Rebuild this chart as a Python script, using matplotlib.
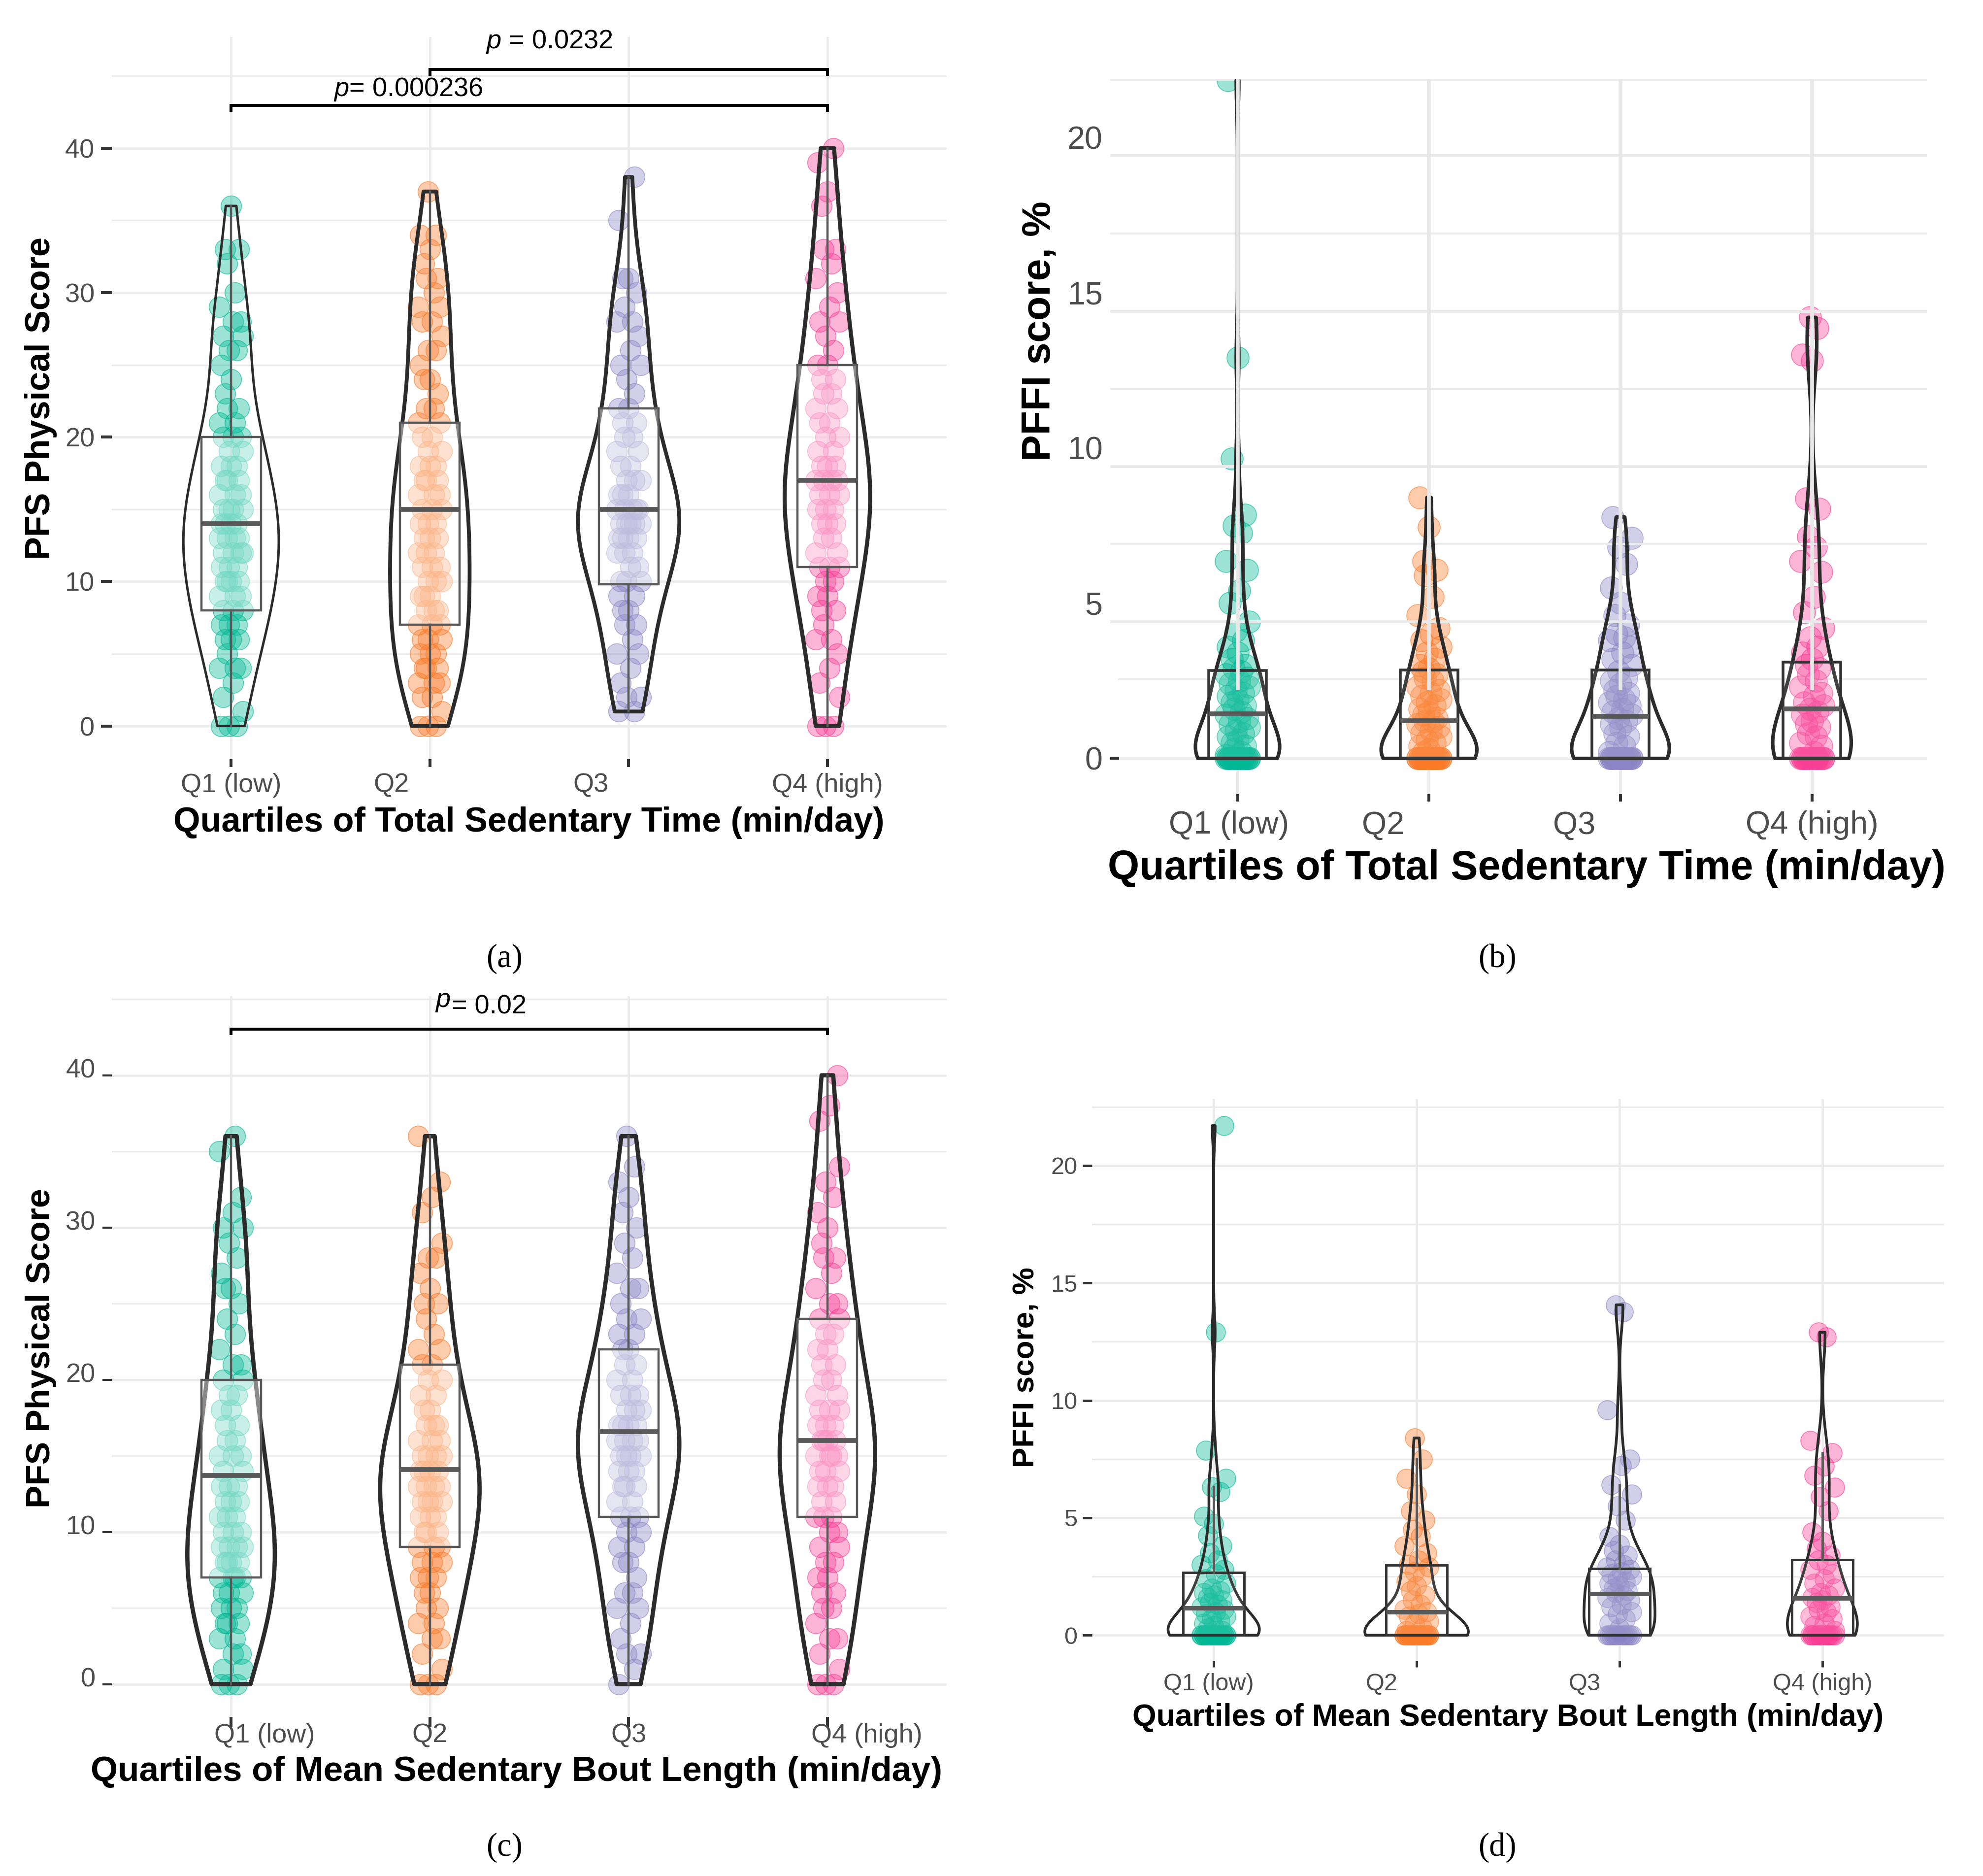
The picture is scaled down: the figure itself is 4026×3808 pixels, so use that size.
"""
Four-panel violin / box / jitter figure: PFS physical score and PFFI score
by quartiles of total sedentary time and mean sedentary bout length.
"""
import matplotlib
matplotlib.use("Agg")

import matplotlib.pyplot as plt
import matplotlib.transforms as mtransforms
import numpy as np
from matplotlib.colors import to_rgba

# ── canvas ─────────────────────────────────────────────────────────────────────
W, H, DPI = 4026, 3808, 100

plt.rcParams["font.family"] = ["Liberation Sans", "DejaVu Sans"]
plt.rcParams["mathtext.fontset"] = "custom"
plt.rcParams["mathtext.it"] = "Liberation Sans:italic"
plt.rcParams["mathtext.rm"] = "Liberation Sans"

# ── colours ────────────────────────────────────────────────────────────────────
C_GRID = "#EBEBEB"
C_TICK = "#333333"
C_TXT = "#4D4D4D"
C_VIOLIN = "#2B2B2B"
C_BOX = "#595959"
GROUP_COLORS = ["#00B894", "#FA7A28", "#8A84C4", "#F83E95"]

# ── data ───────────────────────────────────────────────────────────────────────
CATEGORIES = ["Q1 (low)", "Q2", "Q3", "Q4 (high)"]
POSITIONS = [1, 2, 3, 4]

XLABEL_TOTAL = "Quartiles of Total Sedentary Time (min/day)"
XLABEL_BOUT = "Quartiles of Mean Sedentary Bout Length (min/day)"
YLABEL_PFS = "PFS Physical Score"
YLABEL_PFFI = "PFFI score, %"

# (a) PFS by total sedentary time
A_Q1 = [0, 0, 0, 1, 2, 3, 4, 4, 4, 5, 6, 6, 6, 7, 7, 7, 8, 8, 8, 9, 9, 9, 10, 10, 10, 10,
        11, 11, 11, 12, 12, 12, 12, 13, 13, 13, 13, 14, 14, 14, 14, 15, 15, 15, 15, 16, 16,
        16, 17, 17, 17, 18, 18, 18, 19, 19, 20, 20, 20, 21, 21, 22, 22, 23, 24, 25, 26, 26,
        27, 27, 28, 28, 29, 30, 32, 33, 33, 36]
A_Q2 = [0, 0, 0, 1, 2, 2, 3, 3, 3, 4, 4, 4, 5, 5, 5, 6, 6, 6, 7, 7, 7, 8, 8, 8, 9, 9, 9,
        10, 10, 10, 11, 11, 11, 12, 12, 12, 13, 13, 13, 14, 14, 14, 15, 15, 15, 16, 16, 16,
        17, 17, 17, 18, 18, 18, 19, 19, 20, 20, 21, 21, 22, 22, 23, 24, 24, 25, 26, 26, 27,
        28, 28, 29, 29, 30, 31, 31, 32, 33, 34, 34, 37]
A_Q3 = [1, 1, 2, 2, 3, 4, 5, 5, 6, 7, 7, 8, 8, 9, 9, 10, 10, 10, 11, 11, 12, 12, 12, 13, 13,
        13, 13, 14, 14, 14, 14, 14, 15, 15, 15, 15, 15, 16, 16, 16, 17, 17, 17, 18, 18, 19,
        19, 20, 20, 21, 21, 22, 22, 23, 24, 25, 25, 26, 27, 28, 28, 29, 30, 31, 31, 35, 38]
A_Q4 = [0, 0, 0, 2, 3, 4, 5, 6, 6, 7, 8, 8, 9, 9, 10, 10, 11, 11, 11, 12, 12, 13, 13, 14, 14,
        14, 15, 15, 15, 16, 16, 16, 17, 17, 17, 17, 18, 18, 18, 19, 19, 20, 20, 21, 21, 22,
        22, 23, 23, 24, 24, 25, 25, 26, 27, 28, 28, 29, 30, 31, 32, 33, 33, 36, 37, 39, 40]
A_BOX_LOWER = [8, 7, 9.8, 11]
A_BOX_MEDIAN = [14, 15, 15, 17]
A_BOX_UPPER = [20, 21, 22, 25]
A_WHISKER_LO = [0, 0, 1, 0]
A_WHISKER_HI = [36, 37, 38, 40]
A_P_TEXTS = ["$p$= 0.000236", "$p$ = 0.0232"]

# (b) PFFI by total sedentary time
B_Q1 = [0, 0, 0, 0, 0, 0, 0, 0, 0, 0, 0, 0, 0, 0, 0, 0, 0, 0, 0, 0,
        0.1, 0.2, 0.3, 0.4, 0.5, 0.6, 0.7, 0.8, 0.9, 1.0, 1.1, 1.2, 1.3, 1.4, 1.5, 1.6,
        1.7, 1.8, 1.9, 2.0, 2.1, 2.2, 2.3, 2.4, 2.5, 2.6, 2.7, 2.8, 2.9, 3.0, 3.2, 3.4,
        3.6, 3.8, 4.1, 4.4, 5.0, 5.4, 6.06, 6.35, 7.25, 7.5, 7.85, 9.65, 12.9, 21.83]
B_Q2 = [0, 0, 0, 0, 0, 0, 0, 0, 0, 0, 0, 0, 0, 0, 0, 0, 0, 0, 0, 0, 0, 0, 0, 0,
        0.2, 0.3, 0.4, 0.5, 0.6, 0.7, 0.8, 0.9, 1.0, 1.1, 1.2, 1.2, 1.3, 1.4, 1.5, 1.6,
        1.7, 1.8, 1.9, 2.0, 2.1, 2.2, 2.3, 2.5, 2.6, 2.7, 2.8, 2.9, 3.0, 3.2, 3.4, 3.6,
        3.8, 4.0, 4.2, 4.6, 5.2, 5.9, 6.06, 6.35, 7.44, 8.4]
B_Q3 = [0, 0, 0, 0, 0, 0, 0, 0, 0, 0, 0, 0, 0, 0, 0, 0, 0, 0, 0, 0,
        0.2, 0.4, 0.5, 0.7, 0.8, 1.0, 1.1, 1.2, 1.3, 1.4, 1.5, 1.6, 1.7, 1.8, 1.9, 2.0,
        2.1, 2.2, 2.4, 2.5, 2.6, 2.8, 3.0, 3.2, 3.4, 3.6, 3.8, 3.9, 4.0, 4.3, 4.6, 5.0,
        5.5, 6.25, 6.8, 7.1, 7.77]
B_Q4 = [0, 0, 0, 0, 0, 0, 0, 0, 0, 0, 0, 0, 0, 0, 0, 0, 0, 0,
        0.2, 0.4, 0.5, 0.7, 0.8, 1.0, 1.1, 1.2, 1.4, 1.5, 1.6, 1.7, 1.8, 2.0, 2.1, 2.3,
        2.5, 2.7, 2.9, 3.0, 3.2, 3.4, 3.6, 3.9, 4.2, 4.7, 5.2, 6.0, 6.35, 6.8, 7.15,
        8.04, 8.37, 12.8, 13.0, 13.85, 14.2]
B_BOX_LOWER = [0, 0, 0, 0]
B_BOX_MEDIAN = [1.44, 1.21, 1.35, 1.6]
B_BOX_UPPER = [2.83, 2.85, 2.85, 3.1]
B_WHISKER_LO = [0, 0, 0, 0]
B_WHISKER_HI = [6.35, 6.35, 7.1, 7.15]

# (c) PFS by mean sedentary bout length
C_Q1 = [0, 0, 0, 1, 1, 2, 2, 3, 3, 4, 4, 4, 5, 5, 5, 6, 6, 6, 7, 7, 7, 7, 8, 8, 8, 8, 9, 9,
        9, 9, 10, 10, 10, 11, 11, 11, 12, 12, 12, 13, 13, 13, 14, 14, 15, 15, 15, 16, 16,
        17, 17, 18, 18, 19, 19, 20, 20, 21, 21, 22, 23, 24, 25, 26, 26, 27, 28, 29, 30, 30,
        31, 32, 35, 36]
C_Q2 = [0, 0, 0, 1, 2, 3, 3, 4, 4, 5, 5, 6, 6, 7, 7, 7, 8, 8, 8, 9, 9, 9, 10, 10, 10, 11,
        11, 11, 12, 12, 12, 12, 13, 13, 13, 13, 14, 14, 14, 14, 15, 15, 15, 15, 16, 16, 16,
        17, 17, 17, 18, 18, 19, 19, 20, 20, 21, 21, 22, 22, 23, 24, 25, 25, 26, 27, 28, 28,
        29, 31, 32, 33, 36]
C_Q3 = [0, 1, 2, 2, 3, 4, 5, 5, 6, 6, 7, 8, 8, 9, 9, 10, 10, 11, 11, 11, 12, 12, 13, 13, 13,
        14, 14, 14, 15, 15, 15, 15, 16, 16, 16, 16, 17, 17, 17, 17, 18, 18, 18, 19, 19, 19,
        20, 20, 21, 21, 22, 22, 23, 23, 24, 24, 25, 26, 26, 27, 28, 29, 30, 31, 32, 33, 34,
        36]
C_Q4 = [0, 0, 0, 1, 2, 3, 3, 4, 5, 5, 6, 6, 7, 7, 8, 8, 9, 9, 10, 10, 11, 11, 11, 12, 12,
        13, 13, 13, 14, 14, 14, 15, 15, 15, 15, 16, 16, 16, 16, 17, 17, 17, 18, 18, 18, 19,
        19, 20, 20, 21, 21, 22, 22, 23, 23, 24, 24, 25, 25, 26, 27, 28, 28, 29, 30, 31, 32,
        33, 34, 37, 38, 40]
C_BOX_LOWER = [7, 9, 11, 11]
C_BOX_MEDIAN = [13.7, 14.1, 16.6, 16]
C_BOX_UPPER = [20, 21, 22, 24]
C_WHISKER_LO = [0, 0, 0, 0]
C_WHISKER_HI = [36, 36, 36, 40]
C_P_TEXT = "= 0.02"

# (d) PFFI by mean sedentary bout length
D_Q1 = [0, 0, 0, 0, 0, 0, 0, 0, 0, 0, 0, 0, 0, 0, 0, 0, 0, 0, 0, 0, 0, 0,
        0.1, 0.2, 0.3, 0.4, 0.5, 0.6, 0.7, 0.8, 0.9, 1.0, 1.1, 1.2, 1.3, 1.4, 1.5, 1.6,
        1.7, 1.8, 1.9, 2.0, 2.2, 2.4, 2.6, 2.8, 3.0, 3.2, 3.5, 3.8, 4.24, 4.75, 5.06,
        6.1, 6.33, 6.67, 7.87, 12.9, 21.7]
D_Q2 = [0, 0, 0, 0, 0, 0, 0, 0, 0, 0, 0, 0, 0, 0, 0, 0, 0, 0, 0, 0, 0, 0, 0, 0, 0, 0,
        0.2, 0.3, 0.5, 0.6, 0.8, 0.9, 1.0, 1.1, 1.3, 1.5, 1.7, 1.9, 2.1, 2.3, 2.5, 2.7,
        2.9, 3.0, 3.2, 3.5, 3.8, 4.2, 4.5, 4.9, 5.3, 6.0, 6.67, 7.5, 8.4]
D_Q3 = [0, 0, 0, 0, 0, 0, 0, 0, 0, 0, 0, 0,
        0.3, 0.5, 0.7, 0.9, 1.0, 1.2, 1.3, 1.5, 1.6, 1.7, 1.8, 1.9, 2.0, 2.1, 2.2, 2.3,
        2.4, 2.5, 2.6, 2.7, 2.8, 2.9, 3.0, 3.2, 3.4, 3.6, 3.86, 4.2, 4.9, 5.5, 6.0, 6.4,
        7.23, 7.5, 9.6, 13.77, 14.07]
D_Q4 = [0, 0, 0, 0, 0, 0, 0, 0, 0, 0, 0, 0, 0, 0, 0, 0,
        0.2, 0.4, 0.5, 0.7, 0.8, 1.0, 1.1, 1.2, 1.4, 1.5, 1.6, 1.7, 1.8, 2.0, 2.2, 2.4,
        2.6, 2.8, 3.0, 3.2, 3.4, 3.7, 4.0, 4.4, 5.3, 5.9, 6.3, 6.8, 7.2, 7.77, 8.3, 12.7,
        12.9]
D_BOX_LOWER = [0, 0, 0, 0]
D_BOX_MEDIAN = [1.17, 1.0, 1.76, 1.58]
D_BOX_UPPER = [2.66, 2.99, 2.84, 3.22]
D_WHISKER_LO = [0, 0, 0, 0]
D_WHISKER_HI = [6.33, 7.5, 6.4, 7.77]

PANEL_TAGS = ["(a)", "(b)", "(c)", "(d)"]

# horizontal jitter pattern for the points (category units)
JITTER = [-0.05, 0.03, -0.01, 0.06, -0.04, 0.01, 0.05, -0.06, 0.02, -0.02, 0.04, -0.03, 0.0]


# ── helpers ────────────────────────────────────────────────────────────────────

def rect(left, top, right, bottom):
    """Pixel box -> figure-fraction rect."""
    return [left / W, 1 - bottom / H, (right - left) / W, (bottom - top) / H]


def fpos(x, y):
    return x / W, 1 - y / H


def nrd0_factor(vals):
    """Silverman's rule (R's bw.nrd0) expressed as a factor of the sample sd."""
    v = np.asarray(vals, float)
    sd = v.std(ddof=1)
    iqr = np.subtract(*np.percentile(v, [75, 25]))
    bw = 0.9 * min(sd, iqr / 1.34 if iqr > 0 else sd) * len(v) ** -0.2
    return bw / sd


def draw_points(ax, groups, size, zorder=2):
    for pos, vals, col in zip(POSITIONS, groups, GROUP_COLORS):
        xs = [pos + JITTER[i % len(JITTER)] for i in range(len(vals))]
        ax.scatter(xs, vals, s=size, facecolor=to_rgba(col, 0.38),
                   edgecolor=to_rgba(col, 0.6), linewidth=1.2, zorder=zorder)


def draw_violins(ax, groups, widths, lws, zorder=3):
    for pos, vals, w, lw in zip(POSITIONS, groups, widths, lws):
        parts = ax.violinplot([vals], positions=[pos], widths=w, showextrema=False,
                              bw_method=nrd0_factor(vals), points=300)
        for body in parts["bodies"]:
            body.set_alpha(None)
            body.set_facecolor("none")
            body.set_edgecolor(C_VIOLIN)
            body.set_linewidth(lw)
            body.set_zorder(zorder)


def draw_boxes(ax, lower, median, upper, lo, hi, edge, box_lw, med_lw, fill_alpha,
               zorder=4):
    stats = [dict(med=m, q1=a, q3=b, whislo=l, whishi=h, fliers=[])
             for a, m, b, l, h in zip(lower, median, upper, lo, hi)]
    ax.bxp(stats, positions=POSITIONS, widths=0.3, showfliers=False, showcaps=False,
           patch_artist=True, manage_ticks=False, zorder=zorder,
           boxprops=dict(facecolor=(1, 1, 1, fill_alpha), edgecolor=edge, linewidth=box_lw),
           medianprops=dict(color=C_BOX, linewidth=med_lw, solid_capstyle="butt"),
           whiskerprops=dict(color=C_BOX, linewidth=box_lw))


def base_axes(ax, ylim, yticks, yminor, tick_fs, grid=True, grid_lw=3.3):
    ax.set_xlim(0.4, 4.6)
    ax.set_ylim(*ylim)
    ax.set_xticks(POSITIONS)
    ax.set_xticklabels(CATEGORIES)
    ax.set_yticks(yticks)
    ax.set_yticks(yminor, minor=True)
    for side in ax.spines.values():
        side.set_visible(False)
    ax.tick_params(labelsize=tick_fs, labelcolor=C_TXT, color=C_TICK)
    ax.tick_params(which="minor", length=0)
    if grid:
        ax.set_axisbelow(True)
        ax.grid(True, which="major", color=C_GRID, linewidth=grid_lw)
        ax.grid(True, which="minor", axis="y", color=C_GRID, linewidth=grid_lw * 0.7)


def place_labels(fig, ax, xlabel, ylabel, x_xy, y_xy, x_fs, y_fs):
    ax.set_xlabel(xlabel, fontsize=x_fs, fontweight="bold", color="black", va="center")
    ax.set_ylabel(ylabel, fontsize=y_fs, fontweight="bold", color="black", va="center")
    ax.xaxis.set_label_coords(*fpos(*x_xy), transform=fig.transFigure)
    ax.yaxis.set_label_coords(*fpos(*y_xy), transform=fig.transFigure)


def shift_labels(fig, labels, dx_px=None, dy_px=0):
    for i, lab in enumerate(labels):
        dx = dx_px[i] if dx_px is not None else 0
        off = mtransforms.ScaledTranslation(dx / DPI, dy_px / DPI, fig.dpi_scale_trans)
        lab.set_transform(lab.get_transform() + off)


# ── figure ─────────────────────────────────────────────────────────────────────
fig = plt.figure(figsize=(W / DPI, H / DPI), dpi=DPI, facecolor="white")

ax_a = fig.add_axes(rect(227, 75, 1922, 1541))
ax_b = fig.add_axes(rect(2254, 160, 3912, 1612))
ax_c = fig.add_axes(rect(227, 2022, 1922, 3485))
ax_d = fig.add_axes(rect(2217, 2231, 3947, 3371))

# ── Panel a ────────────────────────────────────────────────────────────────────
ax = ax_a
base_axes(ax, (-2.3, 47.7), [0, 10, 20, 30, 40], [5, 15, 25, 35, 45], 39)
draw_points(ax, [A_Q1, A_Q2, A_Q3, A_Q4], 900)
draw_violins(ax, [A_Q1, A_Q2, A_Q3, A_Q4], [0.48, 0.40, 0.51, 0.43], [3.6, 5.6, 5.6, 6.0])
draw_boxes(ax, A_BOX_LOWER, A_BOX_MEDIAN, A_BOX_UPPER, A_WHISKER_LO, A_WHISKER_HI,
           C_BOX, 3.2, 7.0, 0.45)
ax.plot([1, 1, 4, 4], [42.63, 42.96, 42.96, 42.63], color="black", lw=4.3,
        solid_joinstyle="miter", zorder=5)
ax.plot([2, 2, 4, 4], [45.1, 45.45, 45.45, 45.1], color="black", lw=4.3,
        solid_joinstyle="miter", zorder=5)
ax.text(1.89, 44.08, A_P_TEXTS[0], ha="center", va="center", fontsize=39)
ax.text(2.6, 47.37, A_P_TEXTS[1], ha="center", va="center", fontsize=39)
ax.tick_params(axis="y", length=16, width=4.3, pad=9)
ax.tick_params(axis="x", length=11.5, width=4.3, pad=8.5)
place_labels(fig, ax, XLABEL_TOTAL, YLABEL_PFS, (1074, 1670), (83, 809), 50.5, 50.5)

# ── Panel b ────────────────────────────────────────────────────────────────────
ax = ax_b
base_axes(ax, (-1.15, 21.88), [0, 5, 10, 15, 20], [], 46.5, grid=False)
ax.set_xlim(0.335, 4.6)
# lower layer of the grid, hidden behind the points
ax.axhline(0, color=C_GRID, lw=4.3, zorder=0.5)
ax.axhline(2.54, xmin=0.01, color=C_GRID, lw=2.6, zorder=0.5)
for p in POSITIONS:
    ax.axvline(p, color=C_GRID, lw=4.3, zorder=0.5)
draw_points(ax, [B_Q1, B_Q2, B_Q3, B_Q4], 1050)
# upper layer of the grid, drawn across the points (offset as in the original)
for gy in [4.4, 9.4, 14.4, 19.4]:
    ax.axhline(gy, color=C_GRID, lw=4.3, zorder=2.5)
for gy in [6.9, 11.9, 16.9, 21.85]:
    ax.axhline(gy, color=C_GRID, lw=3.0, zorder=2.5)
draw_violins(ax, [B_Q1, B_Q2, B_Q3, B_Q4], [0.44, 0.50, 0.51, 0.41], [5.2, 5.2, 5.2, 5.2])
draw_boxes(ax, B_BOX_LOWER, B_BOX_MEDIAN, B_BOX_UPPER, B_WHISKER_LO, B_WHISKER_HI,
           C_TICK, 4.0, 7.0, 0.1)
ax.vlines(POSITIONS, 2.2, 21.88, color="#E8E8E8", lw=5.5, zorder=6)
ax.tick_params(axis="y", direction="in", length=13, width=4.3, pad=11)
for t in ax.yaxis.get_major_ticks()[1:]:
    t.tick1line.set_visible(False)
ax.tick_params(axis="x", length=11, width=4.3, pad=13)
place_labels(fig, ax, XLABEL_TOTAL, YLABEL_PFFI, (3099, 1763), (2110, 672), 59.5, 58)

# ── Panel c ────────────────────────────────────────────────────────────────────
ax = ax_c
base_axes(ax, (-2.15, 45.2), [0, 10, 20, 30, 40], [5, 15, 25, 35, 45], 39)
draw_points(ax, [C_Q1, C_Q2, C_Q3, C_Q4], 900)
draw_violins(ax, [C_Q1, C_Q2, C_Q3, C_Q4], [0.44, 0.50, 0.51, 0.48], [6.2, 6.2, 6.2, 6.2])
draw_boxes(ax, C_BOX_LOWER, C_BOX_MEDIAN, C_BOX_UPPER, C_WHISKER_LO, C_WHISKER_HI,
           C_BOX, 3.2, 7.0, 0.45)
ax.plot([1, 1, 4, 4], [42.74, 43.04, 43.04, 42.74], color="black", lw=4.3,
        solid_joinstyle="miter", zorder=5)
ax.text(2.11, 44.5, C_P_TEXT, ha="left", va="center", fontsize=39)
ax.text(2.065, 44.95, "p", ha="center", va="center", fontsize=39, style="italic")
ax.tick_params(axis="y", length=14, width=3.0, pad=10)
ax.tick_params(axis="x", length=15, width=4.3, pad=-6)
place_labels(fig, ax, XLABEL_BOUT, YLABEL_PFS, (1049, 3597), (83, 2737), 51, 50)

# ── Panel d ────────────────────────────────────────────────────────────────────
ax = ax_d
base_axes(ax, (-1.085, 22.83), [0, 5, 10, 15, 20], [2.5, 7.5, 12.5, 17.5, 22.5], 35)
draw_points(ax, [D_Q1, D_Q2, D_Q3, D_Q4], 790)
draw_violins(ax, [D_Q1, D_Q2, D_Q3, D_Q4], [0.45, 0.51, 0.35, 0.345], [4.0, 4.0, 4.0, 4.0])
draw_boxes(ax, D_BOX_LOWER, D_BOX_MEDIAN, D_BOX_UPPER, D_WHISKER_LO, D_WHISKER_HI,
           C_TICK, 3.5, 6.5, 0.1)
ax.tick_params(axis="y", length=13.5, width=3.5, pad=8)
ax.tick_params(axis="x", length=9, width=3.5, pad=9)
place_labels(fig, ax, XLABEL_BOUT, YLABEL_PFFI, (3062, 3486), (2084, 2776), 45, 44.7)

# ── per-panel tick-label nudges (the source panels are not centred on ticks) ──
shift_labels(fig, ax_a.get_xticklabels(), [0, -78, -77, 0])
shift_labels(fig, ax_b.get_xticklabels(), [-17, -93, -94, 0])
shift_labels(fig, ax_c.get_xticklabels(), [68, 0, 0, 80])
shift_labels(fig, ax_d.get_xticklabels(), [-10, -71, -71, 0])
shift_labels(fig, ax_c.get_yticklabels(), None, 15)

# ── panel tags ─────────────────────────────────────────────────────────────────
for tag, (tx, ty) in zip(PANEL_TAGS, [(1024, 1946), (3040, 1946), (1024, 3750), (3040, 3750)]):
    fig.text(*fpos(tx, ty), tag, ha="center", va="center", fontsize=48,
             family="Liberation Serif")

fig.savefig("out.png", dpi=DPI, facecolor="white")
